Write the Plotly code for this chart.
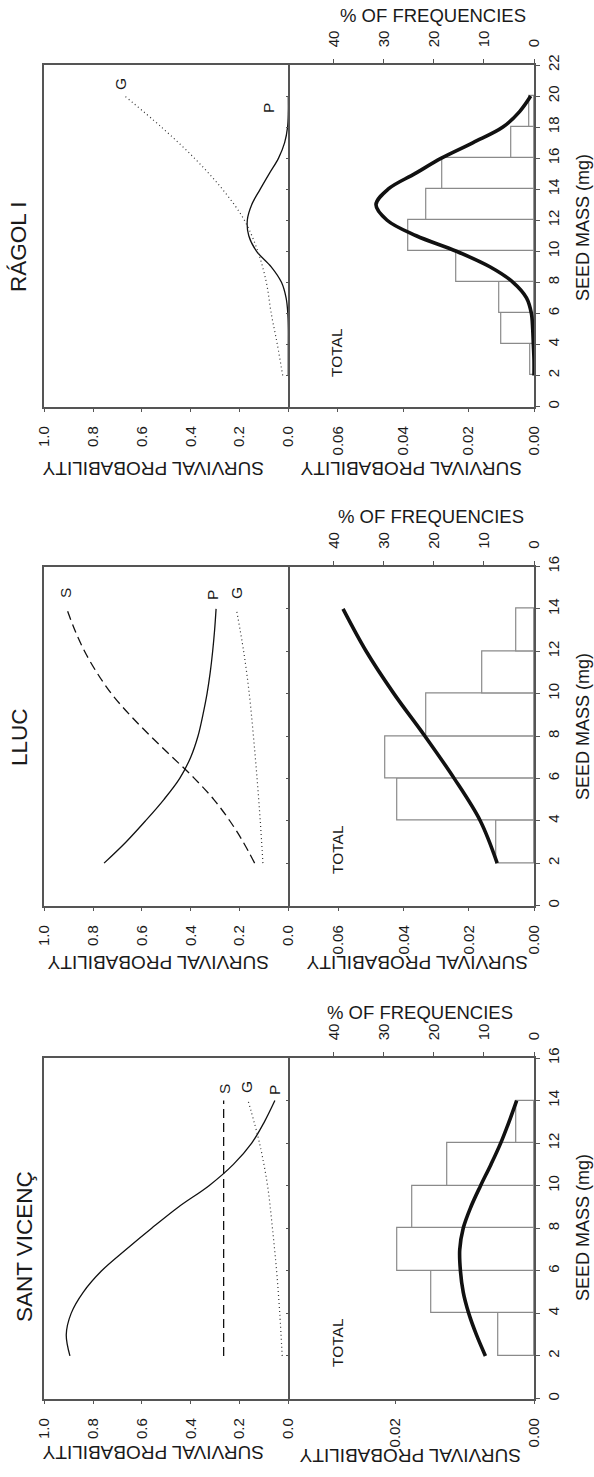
import plotly.graph_objects as go

# ---------------- DATA ----------------
# RÁGOL I
rag_seed = [2, 3, 4, 5, 6, 7, 8, 9, 10, 11, 12, 13, 14, 15, 16, 17, 18, 19, 20]
rag_P = [0.0, 0.0, 0.0, 0.0, 0.002, 0.009, 0.028, 0.07, 0.13, 0.162, 0.168, 0.15, 0.115, 0.078, 0.04, 0.015, 0.003, 0.0, 0.0]
rag_G_seed = [2, 4, 6, 8, 10, 12, 14, 16, 18, 20]
rag_G = [0.023, 0.045, 0.07, 0.09, 0.125, 0.18, 0.27, 0.385, 0.52, 0.67]
rag_total = [0.0, 0.0, 0.0002, 0.0004, 0.0008, 0.0023, 0.0064, 0.0135, 0.0237, 0.036, 0.0449, 0.0483, 0.0446, 0.0364, 0.0283, 0.0186, 0.0095, 0.0044, 0.001]
rag_bins = [3, 5, 7, 9, 11, 13, 15, 17, 19]
rag_freq = [0.7, 6.6, 7.0, 15.6, 25.1, 21.6, 18.4, 4.5, 1.0]

# LLUC
lluc_seed = [2, 3, 4, 5, 6, 7, 8, 9, 10, 11, 12, 13, 14]
lluc_P = [0.755, 0.665, 0.585, 0.51, 0.445, 0.40, 0.37, 0.35, 0.333, 0.32, 0.31, 0.302, 0.296]
lluc_S = [0.138, 0.185, 0.24, 0.305, 0.385, 0.475, 0.565, 0.65, 0.725, 0.785, 0.835, 0.875, 0.908]
lluc_G_seed = [2, 4, 6, 8, 10, 12, 14]
lluc_G = [0.104, 0.115, 0.128, 0.143, 0.16, 0.183, 0.213]
lluc_total_seed = [2, 4, 6, 8, 10, 12, 14]
lluc_total = [0.0113, 0.0165, 0.0245, 0.0335, 0.043, 0.0515, 0.0586]
lluc_bins = [3, 5, 7, 9, 11, 13]
lluc_freq = [7.5, 27.3, 29.7, 21.5, 10.3, 3.5]

# SANT VICENÇ
sv_seed = [2, 3, 4, 5, 6, 7, 8, 9, 10, 11, 12, 13, 14]
sv_P = [0.895, 0.91, 0.89, 0.84, 0.765, 0.665, 0.56, 0.45, 0.325, 0.225, 0.15, 0.098, 0.055]
sv_S_seed = [2, 14]
sv_S = [0.265, 0.265]
sv_G_seed = [2, 4, 6, 8, 10, 12, 14]
sv_G = [0.025, 0.035, 0.048, 0.065, 0.085, 0.118, 0.165]
sv_total = [0.0070, 0.0083, 0.0094, 0.0102, 0.0106, 0.0107, 0.0102, 0.0091, 0.0077, 0.0062, 0.0048, 0.0036, 0.0025]
sv_bins = [3, 5, 7, 9, 11, 13]
sv_freq = [7.2, 20.6, 27.4, 24.4, 17.4, 3.6]

prob_ticks = [0.0, 0.2, 0.4, 0.6, 0.8, 1.0]
freq_ticks = [0, 10, 20, 30, 40]

# ---------------- LAYOUT HELPERS ----------------
W, H = 594, 1477
FONT = "Liberation Sans, Arial, sans-serif"
LINE = "#555555"
TXT = "#1a1a1a"


def fx(p):
    return p / W


def fy(p):
    return 1 - p / H


XA = (44.3, 288.3)
XB = (288.3, 534.0)

sites = [
    dict(name="RÁGOL I", band=(65, 406.5), smax=22, pmax=0.0751, pticks=[0, 0.02, 0.04, 0.06],
         top=[(rag_seed, rag_P, "solid"), (rag_G_seed, rag_G, "dot")],
         tot=(rag_seed, rag_total), bins=(rag_bins, rag_freq)),
    dict(name="LLUC", band=(566.5, 905.5), smax=16, pmax=0.0754, pticks=[0, 0.02, 0.04, 0.06],
         top=[(lluc_seed, lluc_P, "solid"), (lluc_seed, lluc_S, "dash"), (lluc_G_seed, lluc_G, "dot")],
         tot=(lluc_total_seed, lluc_total), bins=(lluc_bins, lluc_freq)),
    dict(name="SANT VICENÇ", band=(1058, 1398.5), smax=16, pmax=0.0354, pticks=[0, 0.02],
         top=[(sv_seed, sv_P, "solid"), (sv_S_seed, sv_S, "dash"), (sv_G_seed, sv_G, "dot")],
         tot=(sv_seed, sv_total), bins=(sv_bins, sv_freq)),
]


def xname(k):
    return "xaxis" if k == 1 else f"xaxis{k}"


def yname(k):
    return "yaxis" if k == 1 else f"yaxis{k}"


def xref(k):
    return "x" if k == 1 else f"x{k}"


def yref(k):
    return "y" if k == 1 else f"y{k}"


fig = go.Figure()
layout = dict(
    width=W, height=H, margin=dict(l=0, r=0, t=0, b=0, autoexpand=False),
    paper_bgcolor="white", plot_bgcolor="rgba(0,0,0,0)",
    showlegend=False, font=dict(family=FONT, size=15, color=TXT),
)

axcommon = dict(showgrid=False, zeroline=False, showline=True, linecolor=LINE, linewidth=1.5,
                tickcolor=LINE, automargin=False, tickfont=dict(family=FONT, size=15, color=TXT))

dash_map = {"solid": "solid", "dash": "9px,5px", "dot": "1px,3px"}

for i, s in enumerate(sites):
    kt, kf, kp = 3 * i + 1, 3 * i + 2, 3 * i + 3
    yt, yb = 2 * i + 1, 2 * i + 2
    top, bot = s["band"]
    ydom = [fy(bot), fy(top)]

    # top panel: survival probability (x) vs seed mass (y)
    layout[xname(kt)] = dict(axcommon, domain=[fx(XA[0]), fx(XA[1])], range=[1.0, 0.0], anchor=yref(yt),
                             side="bottom", mirror=True, ticks="outside", ticklen=4, tickangle=-90,
                             ticklabelstandoff=8,
                             tickvals=prob_ticks, ticktext=[f"{v:.1f}" for v in prob_ticks])
    layout[yname(yt)] = dict(axcommon, domain=ydom, range=[0, s["smax"]], anchor=xref(kt), side="right",
                             mirror=True, ticks="inside", ticklen=3, dtick=2, tick0=0, showticklabels=False)

    # bottom panel: frequency axis (top) + probability axis (bottom)
    layout[xname(kf)] = dict(axcommon, domain=[fx(XB[0]), fx(XB[1])], range=[49.1, 0], anchor=yref(yb),
                             side="top", ticks="outside", ticklen=4, tickangle=-90, ticklabelstandoff=9,
                             tickvals=freq_ticks, ticktext=[str(v) for v in freq_ticks])
    layout[xname(kp)] = dict(axcommon, overlaying=xref(kf), range=[s["pmax"], 0], anchor=yref(yb),
                             side="bottom", ticks="outside", ticklen=4, tickangle=-90, ticklabelstandoff=8,
                             tickvals=s["pticks"], ticktext=[f"{v:.2f}" for v in s["pticks"]])
    layout[yname(yb)] = dict(axcommon, domain=ydom, range=[0, s["smax"]], anchor=xref(kf), side="right",
                             ticks="outside", ticklen=4, tickangle=-90, dtick=2, tick0=0,
                             ticklabelstandoff=1)

    for sx, vals, style in s["top"]:
        fig.add_trace(go.Scatter(
            x=vals, y=sx, mode="lines", xaxis=xref(kt), yaxis=yref(yt),
            line=dict(color="#111111" if style != "dot" else "#333333",
                      width=1.3 if style != "dot" else 1.2,
                      dash=dash_map[style], shape="spline", smoothing=1.0),
            hoverinfo="skip"))

    bx, bf = s["bins"]
    fig.add_trace(go.Bar(
        x=bf, y=bx, orientation="h", width=2, xaxis=xref(kf), yaxis=yref(yb),
        marker=dict(color="white", line=dict(color="#8a8a8a", width=1.2)), hoverinfo="skip"))

    tx, tv = s["tot"]
    fig.add_trace(go.Scatter(
        x=tv, y=tx, mode="lines", xaxis=xref(kp), yaxis=yref(yb),
        line=dict(color="#111111", width=3.6, shape="spline", smoothing=1.0), hoverinfo="skip"))

fig.update_layout(**layout)
fig.update_layout(bargap=0)

# ---------------- ANNOTATIONS ----------------
ann = []


def add(text, x, y, size, angle, family=FONT):
    ann.append(dict(text=text, x=fx(x), y=fy(y), xref="paper", yref="paper", showarrow=False,
                    textangle=angle, xanchor="center", yanchor="middle",
                    font=dict(family=family, size=size, color=TXT)))


titles = [("RÁGOL I", 19, 247), ("LLUC", 19, 737), ("SANT VICENÇ", 24, 1247)]
for t, x, y in titles:
    add(t, x, y, 22.5, -90)

curve_labels = [("G", 120, 84), ("P", 268, 108),
                ("S", 65, 593), ("P", 212, 595), ("G", 236, 593),
                ("S", 224, 1089), ("G", 246, 1087), ("P", 274, 1090)]
for t, x, y in curve_labels:
    add(t, x, y, 15.5, -90)

for x, y in [(337, 353), (337, 850), (337, 1343)]:
    add("TOTAL", x, y, 15.5, -90)

for x, y in [(153, 469), (158, 963), (153, 1453), (411, 469), (417, 963), (410, 1456)]:
    add("SURVIVAL PROBABILITY", x, y, 19, 180)

for x, y in [(433, 15), (431, 516), (420, 1012)]:
    add("% OF FREQUENCIES", x, y, 18.5, 0)

for x, y in [(583, 228), (583, 727), (583, 1228)]:
    add("SEED MASS (mg)", x, y, 18, -90)

fig.update_layout(annotations=ann)

fig.write_html("out.html", config={"displayModeBar": False},
               post_script="document.body.style.margin='0';document.body.style.padding='0';")
